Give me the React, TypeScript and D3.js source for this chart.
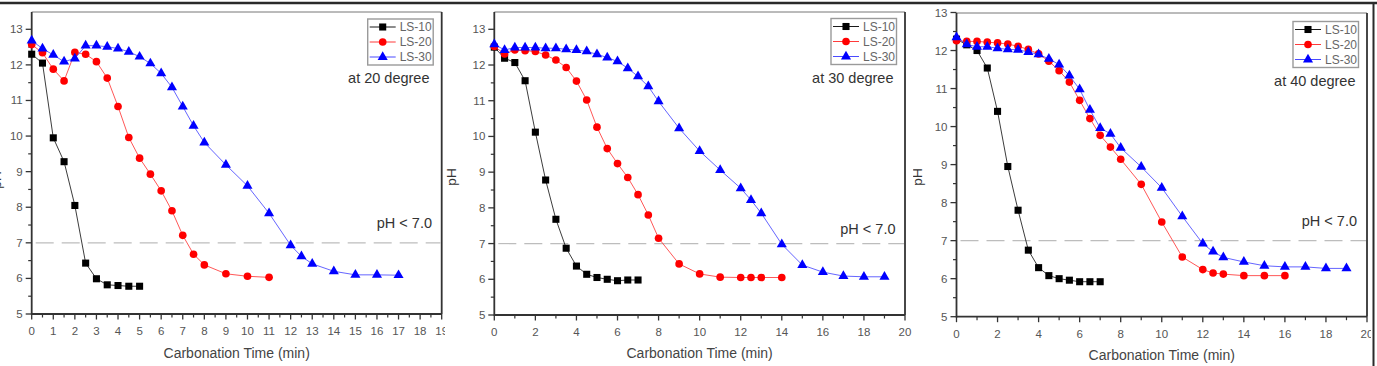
import React from 'react';
import * as d3 from 'd3';

// Series / annotation text
const SERIES_NAMES = ['LS-10', 'LS-20', 'LS-30'];
const PANEL_TITLES = ['at 20 degree', 'at 30 degree', 'at 40 degree'];
const THRESHOLD_LABEL = 'pH < 7.0';
const THRESHOLD_PH = 7;
const X_LABEL = 'Carbonation Time (min)';
const Y_LABEL = 'pH';

// Tick values
const Y_TICKS = [5, 6, 7, 8, 9, 10, 11, 12, 13];
const X_TICKS_P1 = [0, 1, 2, 3, 4, 5, 6, 7, 8, 9, 10, 11, 12, 13, 14, 15, 16, 17, 18, 19];
const X_TICKS_P23 = [0, 2, 4, 6, 8, 10, 12, 14, 16, 18, 20];

// 20 degree
const t20_ls10 = [0, 0.5, 1, 1.5, 2, 2.5, 3, 3.5, 4, 4.5, 5];
const ph20_ls10 = [12.3, 12.05, 9.95, 9.28, 8.05, 6.43, 5.99, 5.82, 5.8, 5.78, 5.78];
const t20_ls20 = [0, 0.5, 1, 1.5, 2, 2.5, 3, 3.5, 4, 4.5, 5, 5.5, 6, 6.5, 7, 7.5, 8, 9, 10, 11];
const ph20_ls20 = [12.57, 12.34, 11.88, 11.55, 12.35, 12.3, 12.09, 11.63, 10.83, 9.96, 9.38, 8.93, 8.46, 7.9, 7.21, 6.68, 6.38, 6.13, 6.06, 6.03];
const t20_ls30 = [0, 0.5, 1, 1.5, 2, 2.5, 3, 3.5, 4, 4.5, 5, 5.5, 6, 6.5, 7, 7.5, 8, 9, 10, 11, 12, 12.5, 13, 14, 15, 16, 17];
const ph20_ls30 = [12.68, 12.46, 12.28, 12.09, 12.18, 12.54, 12.54, 12.51, 12.46, 12.37, 12.23, 12.04, 11.76, 11.37, 10.83, 10.29, 9.82, 9.19, 8.6, 7.83, 6.93, 6.62, 6.41, 6.2, 6.1, 6.1, 6.09];

// 30 degree
const t30_ls10 = [0, 0.5, 1, 1.5, 2, 2.5, 3, 3.5, 4, 4.5, 5, 5.5, 6, 6.5, 7];
const ph30_ls10 = [12.5, 12.19, 12.07, 11.56, 10.12, 8.78, 7.68, 6.87, 6.37, 6.14, 6.05, 6.0, 5.96, 5.98, 5.98];
const t30_ls20 = [0, 0.5, 1, 1.5, 2, 2.5, 3, 3.5, 4, 4.5, 5, 5.5, 6, 6.5, 7, 7.5, 8, 9, 10, 11, 12, 12.5, 13, 14];
const ph30_ls20 = [12.52, 12.31, 12.42, 12.4, 12.38, 12.28, 12.14, 11.93, 11.55, 11.02, 10.26, 9.66, 9.24, 8.85, 8.37, 7.8, 7.15, 6.43, 6.15, 6.06, 6.05, 6.05, 6.05, 6.05];
const t30_ls30 = [0, 0.5, 1, 1.5, 2, 2.5, 3, 3.5, 4, 4.5, 5, 5.5, 6, 6.5, 7, 7.5, 8, 9, 10, 11, 12, 12.5, 13, 14, 15, 16, 17, 18, 19];
const ph30_ls30 = [12.58, 12.42, 12.49, 12.49, 12.49, 12.47, 12.47, 12.44, 12.42, 12.38, 12.3, 12.21, 12.1, 11.91, 11.68, 11.4, 10.98, 10.23, 9.59, 9.06, 8.55, 8.22, 7.85, 6.98, 6.4, 6.2, 6.09, 6.07, 6.07];

// 40 degree
const t40_ls10 = [0, 0.5, 1, 1.5, 2, 2.5, 3, 3.5, 4, 4.5, 5, 5.5, 6, 6.5, 7];
const ph40_ls10 = [12.3, 12.15, 12.0, 11.54, 10.4, 8.95, 7.8, 6.75, 6.29, 6.08, 6.0, 5.96, 5.92, 5.92, 5.92];
const t40_ls20 = [0, 0.5, 1, 1.5, 2, 2.5, 3, 3.5, 4, 4.5, 5, 5.5, 6, 6.5, 7, 7.5, 8, 9, 10, 11, 12, 12.5, 13, 14, 15, 16];
const ph40_ls20 = [12.26, 12.24, 12.24, 12.22, 12.2, 12.17, 12.11, 12.03, 11.91, 11.72, 11.47, 11.17, 10.69, 10.21, 9.77, 9.46, 9.14, 8.48, 7.49, 6.57, 6.24, 6.15, 6.12, 6.08, 6.08, 6.08];
const t40_ls30 = [0, 0.5, 1, 1.5, 2, 2.5, 3, 3.5, 4, 4.5, 5, 5.5, 6, 6.5, 7, 7.5, 8, 9, 10, 11, 12, 12.5, 13, 14, 15, 16, 17, 18, 19];
const ph40_ls30 = [12.35, 12.16, 12.1, 12.1, 12.06, 12.03, 12.02, 11.96, 11.9, 11.78, 11.63, 11.34, 10.98, 10.44, 9.96, 9.81, 9.44, 8.94, 8.39, 7.64, 6.92, 6.71, 6.56, 6.44, 6.34, 6.31, 6.31, 6.27, 6.27];

const PANEL_DATA = [
  [[t20_ls10, ph20_ls10], [t20_ls20, ph20_ls20], [t20_ls30, ph20_ls30]],
  [[t30_ls10, ph30_ls10], [t30_ls20, ph30_ls20], [t30_ls30, ph30_ls30]],
  [[t40_ls10, ph40_ls10], [t40_ls20, ph40_ls20], [t40_ls30, ph40_ls30]],
];

const MARKER_COLORS = ['#000000', '#ff0000', '#0000ff'];
const LINE_COLORS = ['#1a1a1a', '#ff3a3a', '#4a4aff'];
const SYMBOLS = [d3.symbolSquare, d3.symbolCircle, d3.symbolTriangle];
const SYMBOL_SIZES = [50, 46, 44];

const FONT = '"Liberation Sans", Arial, Helvetica, sans-serif';

// Frame geometry for each of the three panels
const LAYOUT = [
  { left: 31.7, right: 441.7, top: 12, bottom: 314, y13: 29.3, xMax: 19, xTicks: X_TICKS_P1, xMinor: 0.5,
    clipL: 0, clipR: 445, legendTop: 19, titleY: 83, titleR: 429.5, thrY: 228, thrR: 432, yLabX: 1, yLabY: 180, xLabY: 358 },
  { left: 494.3, right: 905, top: 12, bottom: 315, y13: 29.3, xMax: 20, xTicks: X_TICKS_P23, xMinor: 1,
    clipL: 445, clipR: 913, legendTop: 18.5, titleY: 83, titleR: 893.5, thrY: 234, thrR: 895.5, yLabX: 456, yLabY: 177, xLabY: 358 },
  { left: 956.5, right: 1367, top: 13, bottom: 316.7, y13: 12.5, xMax: 20, xTicks: X_TICKS_P23, xMinor: 1,
    clipL: 913, clipR: 1371, legendTop: 21.5, titleY: 86, titleR: 1355.5, thrY: 226, thrR: 1357, yLabX: 922, yLabY: 177, xLabY: 360 },
];

function Panel({ idx }: { idx: number }) {
  const L = LAYOUT[idx];
  const x = d3.scaleLinear().domain([0, L.xMax]).range([L.left, L.right]);
  const y = d3.scaleLinear().domain([5, 13]).range([L.bottom, L.y13]);
  const majorX = L.xTicks;
  const minorX = d3.range(0, L.xMax + 0.001, L.xMinor).filter((v) => !majorX.includes(v));
  const minorY = d3.range(5.5, 13, 1);
  const line = d3.line<[number, number]>().x((d) => x(d[0])).y((d) => y(d[1]));
  const clipId = `clip-panel-${idx}`;
  const legW = 65.5;
  const legH = 46;
  const legX = L.right - 8.5 - legW;

  return (
    <g clipPath={`url(#${clipId})`}>
      <defs>
        <clipPath id={clipId}>
          <rect x={L.clipL} y={0} width={L.clipR - L.clipL} height={366} />
        </clipPath>
      </defs>
      <rect x={L.clipL} y={0} width={L.clipR - L.clipL} height={366} fill="#fff" />

      {/* frame */}
      <line x1={L.left} x2={L.right} y1={L.top} y2={L.top} stroke="#777" strokeWidth={1} />
      <line x1={L.right} x2={L.right} y1={L.top} y2={L.bottom} stroke="#333" strokeWidth={1.8} />
      <line x1={L.left} x2={L.left} y1={L.top} y2={L.bottom + 0.8} stroke="#333" strokeWidth={1.8} />
      <line x1={L.left} x2={L.right} y1={L.bottom} y2={L.bottom} stroke="#333" strokeWidth={1.8} />

      {/* threshold line */}
      <line x1={L.left + 4} x2={L.right - 1} y1={y(THRESHOLD_PH)} y2={y(THRESHOLD_PH)}
        stroke="#bdbdbd" strokeWidth={1.2} strokeDasharray="18 8" />

      {/* y ticks */}
      {Y_TICKS.map((v) => (
        <g key={`yt${v}`}>
          <line x1={L.left - 6} x2={L.left} y1={y(v)} y2={y(v)} stroke="#333" strokeWidth={1.3} />
          <text x={L.left - 9} y={y(v) + 4} textAnchor="end" fontSize={11.5} fill="#555" fontFamily={FONT}>{v}</text>
        </g>
      ))}
      {minorY.map((v) => (
        <line key={`ym${v}`} x1={L.left - 3.5} x2={L.left} y1={y(v)} y2={y(v)} stroke="#333" strokeWidth={1.2} />
      ))}

      {/* x ticks */}
      {majorX.map((v) => (
        <g key={`xt${v}`}>
          <line x1={x(v)} x2={x(v)} y1={L.bottom} y2={L.bottom + 5.5} stroke="#333" strokeWidth={1.3} />
          <text x={x(v)} y={L.bottom + 21} textAnchor="middle" fontSize={11.5} fill="#555" fontFamily={FONT}>{v}</text>
        </g>
      ))}
      {minorX.map((v) => (
        <line key={`xm${v}`} x1={x(v)} x2={x(v)} y1={L.bottom} y2={L.bottom + 3.5} stroke="#333" strokeWidth={1.2} />
      ))}

      {/* series */}
      {PANEL_DATA[idx].map(([ts, ps], s) => {
        const pts = ts.map((t, i) => [t, ps[i]] as [number, number]);
        const sym = d3.symbol().type(SYMBOLS[s]).size(SYMBOL_SIZES[s])();
        return (
          <g key={`s${s}`}>
            <path d={line(pts) || ''} fill="none" stroke={LINE_COLORS[s]} strokeWidth={1} strokeOpacity={0.85} />
            {pts.map((p, i) => (
              <path key={i} d={sym || ''} transform={`translate(${x(p[0])},${y(p[1])})`} fill={MARKER_COLORS[s]} />
            ))}
          </g>
        );
      })}

      {/* legend */}
      <rect x={legX} y={L.legendTop} width={legW} height={legH} fill="#fff" stroke="#9a9a9a" strokeWidth={1.4} />
      {SERIES_NAMES.map((name, s) => {
        const cy = L.legendTop + 8 + s * 15;
        const sym = d3.symbol().type(SYMBOLS[s]).size(SYMBOL_SIZES[s])();
        return (
          <g key={name}>
            <line x1={legX + 2} x2={legX + 28} y1={cy} y2={cy} stroke={LINE_COLORS[s]} strokeWidth={1} />
            <path d={sym || ''} transform={`translate(${legX + 15},${cy})`} fill={MARKER_COLORS[s]} />
            <text x={legX + 32} y={cy + 4.3} fontSize={12} fill="#666" fontFamily={FONT}>{name}</text>
          </g>
        );
      })}

      {/* annotations */}
      <text x={L.titleR} y={L.titleY} textAnchor="end" fontSize={14.5} fill="#333" fontFamily={FONT}>{PANEL_TITLES[idx]}</text>
      <text x={L.thrR} y={L.thrY} textAnchor="end" fontSize={14.5} fill="#333" fontFamily={FONT}>{THRESHOLD_LABEL}</text>

      {/* axis titles */}
      <text x={(L.left + L.right) / 2} y={L.xLabY} textAnchor="middle" fontSize={14} fill="#444" fontFamily={FONT}>{X_LABEL}</text>
      <text transform={`translate(${L.yLabX},${L.yLabY}) rotate(-90)`} textAnchor="middle" fontSize={13.5} fill="#333" fontFamily={FONT}>{Y_LABEL}</text>
    </g>
  );
}

export default function App() {
  return (
    <svg width={1377} height={366} style={{ position: 'absolute', left: 0, top: 0, background: '#fff' }}>
      <rect x={0} y={0} width={1377} height={366} fill="#fff" />
      <Panel idx={0} />
      <Panel idx={1} />
      <Panel idx={2} />
      {/* outer border strokes */}
      <line x1={0} x2={1377} y1={3} y2={3} stroke="#2a2a2a" strokeWidth={2.6} />
      <line x1={1373.5} x2={1373.5} y1={2} y2={366} stroke="#2a2a2a" strokeWidth={2} />
    </svg>
  );
}
